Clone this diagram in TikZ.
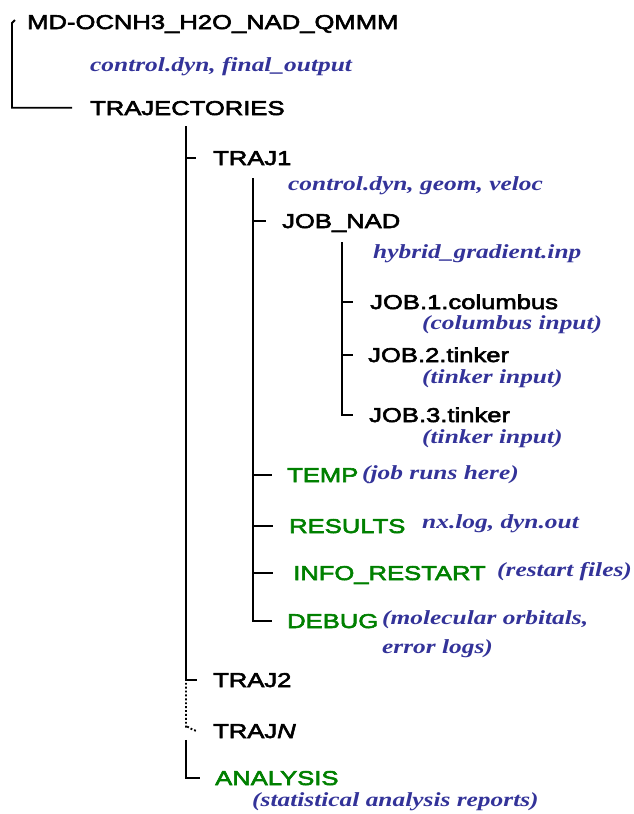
\documentclass[tikz,border=0pt]{standalone}
\usepackage{fontspec}
\usetikzlibrary{calc}
\newfontfamily\sansf{Liberation Sans}[FakeStretch=1.28,FakeBold=3]
\newfontfamily\serff{Liberation Serif}[FakeStretch=1.27]
\definecolor{fblue}{RGB}{51,51,153}
\definecolor{fgreen}{RGB}{0,128,0}
\begin{document}
\begin{tikzpicture}[x=1pt,y=-1pt,
  dir/.style={anchor=base west,inner sep=0pt,font=\sansf\fontsize{20}{24}\selectfont,text height=14.5pt,text depth=0pt},
  green dir/.style={dir,text=fgreen},
  note/.style={anchor=base west,inner sep=0pt,font=\serff\bfseries\itshape\fontsize{20}{24}\selectfont,text=fblue,text height=13pt,text depth=4pt},
  tree/.style={line width=1.9pt,line join=miter}]
\path[use as bounding box] (0,0) rectangle (634,814);
% nodes
\node[dir] (root) at (27,29) {MD-OCNH3\_H2O\_NAD\_QMMM};
\node[note] (rootf) at (90,71) {control.dyn, final\_output};
\node[dir] (trajs) at (90,115) {TRAJECTORIES};
\node[dir] (traj1) at (213,165) {TRAJ1};
\node[note] (traj1f) at (288,190) {control.dyn, geom, veloc};
\node[dir] (jobnad) at (282,228) {JOB\_NAD};
\node[note] (jobnadf) at (373,258) {hybrid\_gradient.inp};
\node[dir] (job1) at (370,309) {JOB.1.columbus};
\node[note] (job1f) at (422,329) {(columbus input)};
\node[dir] (job2) at (368,362) {JOB.2.tinker};
\node[note] (job2f) at (422,383) {(tinker input)};
\node[dir] (job3) at (369,422) {JOB.3.tinker};
\node[note] (job3f) at (422,443) {(tinker input)};
\node[green dir] (temp) at (287,482) {TEMP};
\node[note] (tempf) at (362,479) {(job runs here)};
\node[green dir] (results) at (289,533) {RESULTS};
\node[note] (resultsf) at (422,528) {nx.log, dyn.out};
\node[green dir] (info) at (293,580) {INFO\_RESTART};
\node[note] (infof) at (497,576) {(restart files)};
\node[green dir] (debug) at (287,628) {DEBUG};
\node[note] (debugf) at (382,624) {(molecular orbitals,};
\node[note] (debugf2) at (382,653) {error logs)};
\node[dir] (traj2) at (213,687) {TRAJ2};
\node[dir] (trajn) at (213,738) {TRAJ\textit{N}};
\node[green dir] (analysis) at (215,785) {ANALYSIS};
\node[note] (analysisf) at (252,806) {(statistical analysis reports)};
% level 1
\coordinate (l1hook) at (15,20);
\coordinate (l1) at (12,23);
\draw[tree] (l1hook) -- (l1) |- ([xshift=-18pt]trajs.west);
% level 2
\coordinate (l2) at (186,126);
\draw[tree] (l2) -- (traj2.west -| l2) -- ([xshift=-16pt]traj2.west);
\draw[tree] (traj1.west -| l2) -- ([xshift=-17pt]traj1.west);
\draw[tree,dotted] ($(traj2.west -| l2)+(0,3)$) -- ($(trajn.west -| l2)+(0,-3)$) to[out=90,in=180] ([xshift=-17pt]trajn.west);
\draw[tree] ($(trajn.west -| l2)+(0,9)$) |- ([xshift=-15pt]analysis.west);
% level 3
\coordinate (l3) at (253,178);
\draw[tree] (l3) |- ([xshift=-15pt]debug.west);
\draw[tree] (jobnad.west -| l3) -- ([xshift=-16pt]jobnad.west);
\draw[tree] (temp.west -| l3) -- ([xshift=-15pt]temp.west);
\draw[tree] (results.west -| l3) -- ([xshift=-16pt]results.west);
\draw[tree] (info.west -| l3) -- ([xshift=-20pt]info.west);
% level 4
\coordinate (l4) at (342,242);
\draw[tree] (l4) |- ([xshift=-16pt]job3.west);
\draw[tree] (job1.west -| l4) -- ([xshift=-17pt]job1.west);
\draw[tree] (job2.west -| l4) -- ([xshift=-15pt]job2.west);
\end{tikzpicture}
\end{document}
